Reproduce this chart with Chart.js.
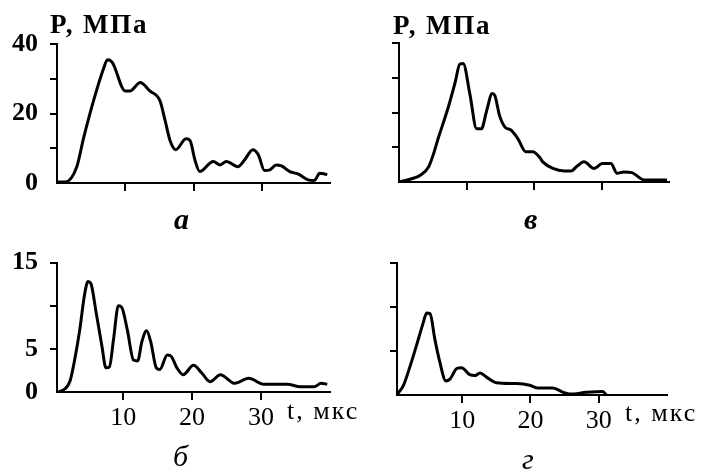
<!DOCTYPE html>
<html>
<head>
<meta charset="utf-8">
<script src="https://cdn.jsdelivr.net/npm/chart.js@4.4.1/dist/chart.umd.min.js"></script>
<style>
  html, body { margin: 0; padding: 0; background: #fff; }
  #wrap { position: relative; width: 703px; height: 470px; overflow: hidden; }
  canvas { position: absolute; }
  .txt { position: absolute; white-space: nowrap; color: #000; line-height: 1; font-family: "Liberation Serif", serif; }
  .unit { font-weight: bold; font-size: 27px; letter-spacing: 1.8px; }
  .tax { font-size: 26px; letter-spacing: 2px; }
  .let { font-style: italic; font-size: 30px; }
</style>
</head>
<body>
<div id="wrap">
  <canvas id="cA" width="350" height="235" style="left:0;top:0"></canvas>
  <canvas id="cV" width="353" height="235" style="left:350px;top:0"></canvas>
  <canvas id="cB" width="350" height="235" style="left:0;top:235px"></canvas>
  <canvas id="cG" width="353" height="235" style="left:350px;top:235px"></canvas>

  <div class="txt unit" style="left:50px;top:11px">P, МПа</div>
  <div class="txt unit" style="left:393px;top:12px">P, МПа</div>
  <div class="txt tax" style="left:287px;top:398px">t, мкс</div>
  <div class="txt tax" style="left:625px;top:400px">t, мкс</div>
  <div class="txt let" style="left:174px;top:204px;font-weight:bold">а</div>
  <div class="txt let" style="left:524px;top:204px;font-weight:bold">в</div>
  <div class="txt let" style="left:173px;top:441px">б</div>
  <div class="txt let" style="left:522px;top:444px">г</div>
</div>
<script>
// t, мкс / P, МПа
const tA = [0, 1.2, 2.9, 3.9, 5.4, 6.8, 7.4, 8.1, 10, 10.7, 12.2, 13.6, 15.1, 15.8, 16.6, 17.4, 18.9, 19.5, 20.2, 20.9, 22.9, 23.9, 24.8, 26.5, 27.5, 28.7, 29.5, 30.4, 31.2, 32.1, 32.9, 34.1, 35.3, 36.8, 37.7, 38.5, 39.2, 39.6];
const pA = [0.3, 0.3, 4.7, 13, 24, 32.8, 35.5, 34.7, 26.5, 26.5, 28.9, 26.5, 23.6, 18.3, 12, 9.6, 12.7, 12.2, 6.7, 3.3, 6.2, 5.2, 6.2, 4.7, 6.7, 9.6, 8.1, 3.6, 3.8, 5.2, 4.9, 3.3, 2.6, 0.9, 0.7, 2.8, 2.6, 2.4];

const tV = [0.2, 2, 3.2, 4.4, 5.1, 5.8, 7.3, 8.3, 9.0, 9.5, 10.5, 11.5, 12.2, 13, 13.8, 14.2, 14.9, 15.7, 16.6, 17.6, 18.8, 19.8, 20.8, 21.3, 22.8, 24.5, 25.5, 26.4, 27.4, 28.9, 30.1, 31.4, 32.3, 33.3, 34.5, 36.3, 37.7, 39.7];
const pV = [0.1, 1, 2, 4.4, 8, 12.5, 21.5, 28.5, 33.9, 34.1, 25.3, 15.3, 15.3, 20.6, 25.5, 24.9, 19.1, 15.8, 14.9, 12.5, 8.7, 8.7, 7.2, 5.8, 3.9, 3.2, 3.2, 4.6, 5.8, 3.9, 5.3, 5.3, 2.5, 2.9, 2.7, 0.6, 0.6, 0.6];

const tB = [0.6, 1.6, 2.3, 3, 3.7, 4.4, 4.9, 5.3, 6.1, 6.9, 7.5, 8, 8.6, 9.3, 9.8, 10.6, 11.5, 12.1, 12.7, 13.4, 14, 14.8, 15.3, 16.4, 17, 17.8, 18.7, 20.2, 21.4, 22.6, 24.1, 26.2, 28.2, 30.4, 33.8, 35.7, 37.7, 38.7, 39.6];
const pB = [0, 0.4, 1.3, 3.9, 7.2, 11.3, 12.8, 12.6, 9.1, 5.4, 2.8, 2.9, 6.1, 10, 9.8, 7.2, 3.7, 3.6, 5.8, 7.1, 5.8, 2.8, 2.6, 4.3, 4.1, 2.8, 2, 3.1, 2.2, 1.2, 2.0, 1.0, 1.6, 0.9, 0.9, 0.6, 0.6, 1.0, 0.9];

const tG = [0.5, 1.4, 2.3, 3.3, 4.3, 4.8, 5.3, 6, 6.7, 7.6, 8.2, 9.2, 9.9, 11.1, 11.9, 12.6, 13.6, 15, 18, 19.9, 21.1, 23.3, 24.8, 25.8, 28.2, 30.6, 31.1];
const pG = [0.1, 1.1, 3.1, 5.6, 8.2, 9.3, 9.2, 6.3, 3.8, 1.6, 1.8, 3.0, 3.1, 2.3, 2.2, 2.5, 2.0, 1.4, 1.3, 1.1, 0.8, 0.8, 0.3, 0.1, 0.3, 0.4, 0];

const xTicks = [10, 20, 30];
const yTicksTop = [0, 10, 20, 30, 40];
const yLabelsTop = [0, 20, 40];
const yTicksBot = [0, 5, 10, 15];
const yLabelsBot = [0, 5, 15];

function panel(id, t, p, o) {
    const cv = document.getElementById(id);
    const W = cv.width, H = cv.height;
    const a = o.area;
    const black = (ctx) => (ctx.tick && ctx.tick.value === 0 ? "rgba(0,0,0,0)" : "#000");
    return new Chart(cv, {
        type: "line",
        data: {
            datasets: [{
                data: t.map((x, i) => ({ x, y: p[i] })),
                borderColor: "#000",
                borderWidth: 3,
                pointRadius: 0,
                cubicInterpolationMode: "monotone",
                fill: false,
            }],
        },
        options: {
            responsive: false,
            animation: false,
            events: [],
            layout: { padding: { top: a.top, right: W - a.right, left: 0, bottom: 0 } },
            plugins: { legend: { display: false }, tooltip: { enabled: false } },
            scales: {
                x: {
                    type: "linear",
                    min: o.xMin,
                    max: o.xMax,
                    afterBuildTicks: (s) => { s.ticks = xTicks.map((v) => ({ value: v })); },
                    afterFit: (s) => { s.height = H - a.bottom; },
                    border: { color: "#000", width: 2 },
                    grid: { drawOnChartArea: false, drawTicks: true, tickLength: 8, color: "#000", lineWidth: 2 },
                    ticks: {
                        color: "#000",
                        padding: 3,
                        maxRotation: 0,
                        autoSkip: false,
                        font: { family: "Liberation Serif", size: 26 },
                        callback: (v) => (o.showX ? String(v) : ""),
                    },
                },
                y: {
                    min: 0,
                    max: o.yMax,
                    afterBuildTicks: (s) => { s.ticks = o.yTicks.map((v) => ({ value: v })); },
                    afterFit: (s) => { s.width = a.left; },
                    border: { color: "#000", width: 2 },
                    grid: { drawOnChartArea: false, drawTicks: true, tickLength: 7, color: black, lineWidth: 2 },
                    ticks: {
                        color: "#000",
                        padding: 12,
                        autoSkip: false,
                        font: { family: "Liberation Serif", size: 26, weight: "bold" },
                        callback: (v) => (o.yLabels.includes(v) ? String(v) : ""),
                    },
                },
            },
        },
    });
}

document.addEventListener("DOMContentLoaded", () => {
    panel("cA", tA, pA, { area: { left: 57, top: 44, right: 330, bottom: 183 }, xMin: 0, xMax: 40, yMax: 40, yTicks: yTicksTop, yLabels: yLabelsTop, showX: false });
    panel("cV", tV, pV, { area: { left: 49, top: 43, right: 319, bottom: 182 }, xMin: 0, xMax: 40, yMax: 40, yTicks: yTicksTop, yLabels: [], showX: false });
    panel("cB", tB, pB, { area: { left: 57, top: 22, right: 330, bottom: 157 }, xMin: 0.4, xMax: 40, yMax: 15, yTicks: yTicksBot, yLabels: yLabelsBot, showX: true });
    panel("cG", tG, pG, { area: { left: 47, top: 22, right: 317, bottom: 160 }, xMin: 0.45, xMax: 40, yMax: 15, yTicks: yTicksBot, yLabels: [], showX: true });
});
</script>
</body>
</html>
